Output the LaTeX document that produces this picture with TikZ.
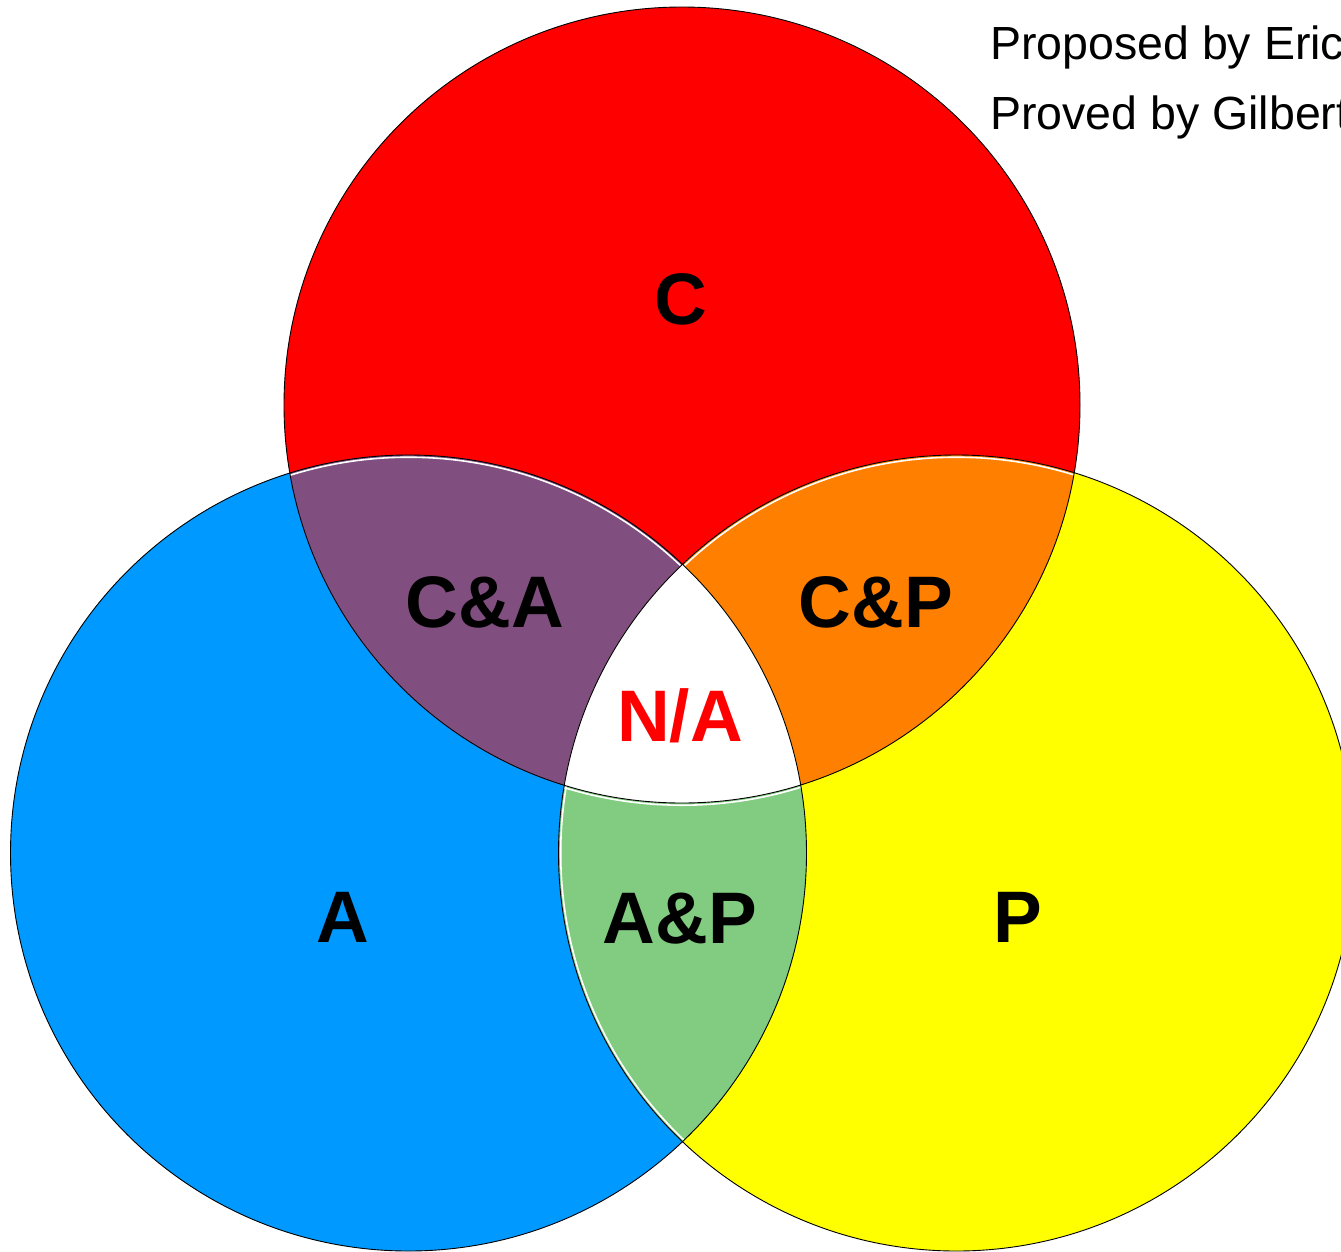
\documentclass[tikz,border=0pt]{standalone}
\usepackage{fontspec}
\setmainfont{Liberation Sans}
\definecolor{setC}{HTML}{FF0000}
\definecolor{setA}{HTML}{0099FF}
\definecolor{setP}{HTML}{FFFF00}
\definecolor{lensCA}{HTML}{814F7F}
\definecolor{lensCP}{HTML}{FF8000}
\definecolor{lensAP}{HTML}{81CC81}
\definecolor{naRed}{HTML}{FF0000}
\begin{document}
\begin{tikzpicture}[x=1pt,y=-1pt,
  rim/.style={draw=black,line width=0.9pt},
  seam/.style={draw=white,line width=1.6pt},
  setlabel/.style={font=\bfseries\fontsize{73}{84}\selectfont,inner sep=0pt},
  credit/.style={font=\fontsize{46.5}{56}\selectfont,inner sep=0pt,anchor=base west}]
\useasboundingbox (0,0) rectangle (1341,1251);
\clip (0,0) rectangle (1341,1251);
% circle centres and radius
\def\R{398}
\coordinate (cC) at (682,405);
\coordinate (cA) at (408.5,853);
\coordinate (cP) at (956.5,853);
% the three sets
\fill[setC] (cC) circle (\R);
\fill[setA] (cA) circle (\R);
\fill[setP] (cP) circle (\R);
% pairwise overlaps
\begin{scope}
  \clip (cC) circle (\R);
  \fill[lensCA] (cA) circle (\R);
  \fill[lensCP] (cP) circle (\R);
  % thin seams under the upper edges of the two top overlaps
  \draw[seam] (cA) circle (\R-2.2);
  \draw[seam] (cP) circle (\R-2.2);
\end{scope}
\begin{scope}
  \clip (cA) circle (\R);
  \fill[lensAP] (cP) circle (\R);
  \begin{scope}
    \clip (cP) circle (\R);
    \draw[seam] (cC) circle (\R+2.2);
    \draw[seam] (cP) circle (\R-2.2);
  \end{scope}
\end{scope}
% triple overlap
\begin{scope}
  \clip (cC) circle (\R);
  \clip (cA) circle (\R);
  \fill[white] (cP) circle (\R);
\end{scope}
% outlines
\draw[rim] (cC) circle (\R);
\draw[rim] (cA) circle (\R);
\draw[rim] (cP) circle (\R);
% labels
\node[setlabel] (lC)  at (681,299) {C};
\node[setlabel] (lA)  at (343,917) {A};
\node[setlabel] (lP)  at (1018,917) {P};
\node[setlabel] (lCA) at (485,602) {C\&A};
\node[setlabel] (lCP) at (876,602) {C\&P};
\node[setlabel] (lAP) at (680,919) {A\&P};
\node[setlabel,text=naRed] (lNA) at (680,716) {N/A};
\node[credit] (t1) at (990,59) {Proposed by Eric};
\node[credit] (t2) at (990,129) {Proved by Gilbert};
\end{tikzpicture}
\end{document}
